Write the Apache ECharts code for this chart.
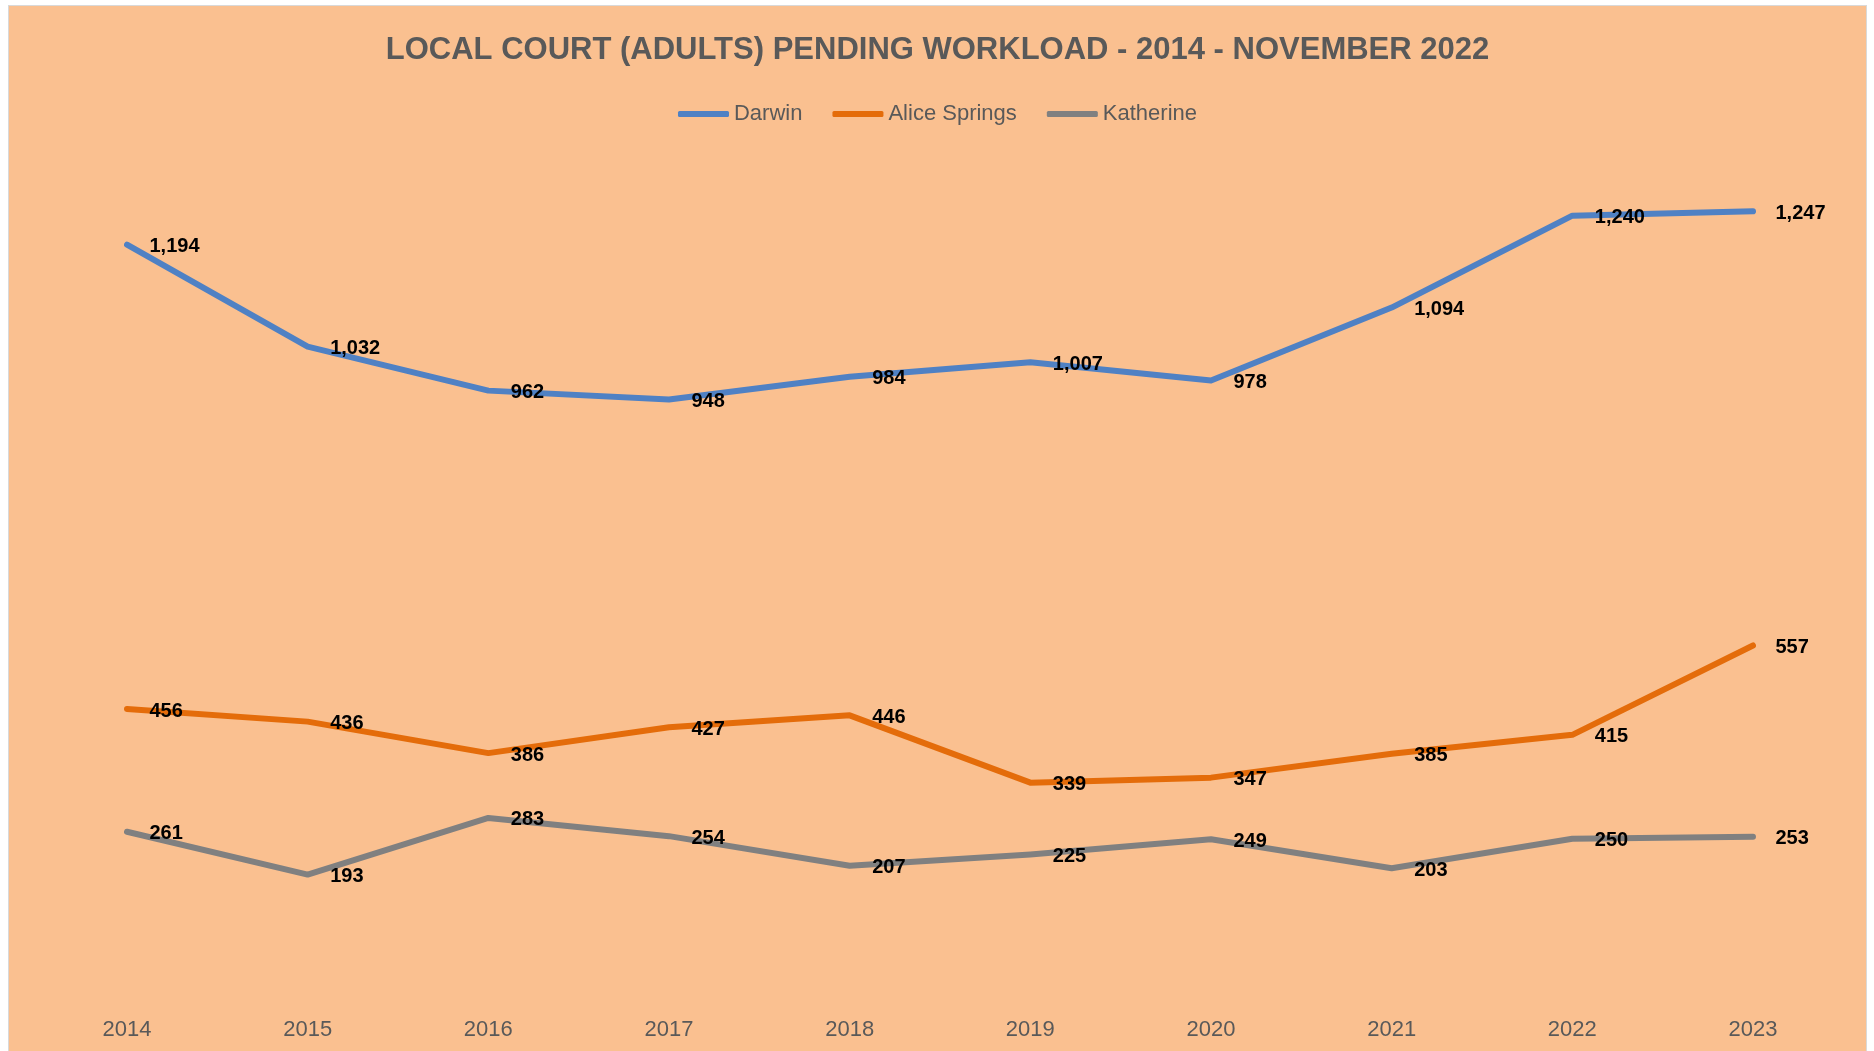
<!DOCTYPE html>
<html lang="en">

<head>
    <meta charset="UTF-8">
    <title>Local Court (Adults) Pending Workload</title>
    <script src="https://cdn.jsdelivr.net/npm/echarts@6/dist/echarts.min.js"></script>
    <style>
        body {
            margin: 0;
            background: #ffffff;
        }

        .picture {
            position: absolute;
            left: 8px;
            top: 5px;
            width: 1857px;
            height: 1046px;
            border: 1px solid #d9d9d9;
        }
    </style>
</head>

<body>
    <div class="picture"></div>

    <script>
        var years = ['2014', '2015', '2016', '2017', '2018', '2019', '2020', '2021', '2022', '2023'];
        var darwin = [1194, 1032, 962, 948, 984, 1007, 978, 1094, 1240, 1247];
        var aliceSprings = [456, 436, 386, 427, 446, 339, 347, 385, 415, 557];
        var katherine = [261, 193, 283, 254, 207, 225, 249, 203, 250, 253];

        var font = "'Liberation Sans', Arial, sans-serif";

        // one line series, labels to the right of each point
        function makeSeries(name, data, color) {
            return {
                name: name,
                type: 'line',
                data: data,
                symbol: 'circle',
                symbolSize: 1,
                showSymbol: true,
                itemStyle: { color: color },
                lineStyle: { color: color, width: 6, cap: 'round', join: 'round' },
                label: {
                    show: true,
                    position: 'right',
                    distance: 22,
                    offset: [0, 2],
                    color: '#000000',
                    fontFamily: font,
                    fontWeight: 'bold',
                    fontSize: 20,
                    formatter: function (p) {
                        return p.value.toLocaleString('en-US');
                    }
                }
            };
        }

        var myChart = echarts.init(document.getElementsByClassName('picture')[0]);
        myChart.setOption({
            animation: false,
            backgroundColor: '#FAC090',
            title: {
                text: 'LOCAL COURT (ADULTS) PENDING WORKLOAD - 2014 - NOVEMBER 2022',
                left: 'center',
                top: 24,
                textStyle: {
                    color: '#595959',
                    fontFamily: font,
                    fontWeight: 'bold',
                    fontSize: 31
                }
            },
            legend: {
                top: 92,
                left: 'center',
                icon: 'roundRect',
                itemWidth: 51,
                itemHeight: 6,
                itemGap: 30,
                textStyle: {
                    color: '#595959',
                    fontFamily: font,
                    fontSize: 22
                },
                data: ['Darwin', 'Alice Springs', 'Katherine']
            },
            grid: {
                left: 118,
                right: 113,
                top: 109,
                bottom: 56
            },
            xAxis: {
                type: 'category',
                boundaryGap: false,
                data: years,
                axisLine: { show: false },
                axisTick: { show: false },
                axisLabel: {
                    color: '#595959',
                    fontFamily: font,
                    fontSize: 22,
                    margin: 23
                }
            },
            yAxis: {
                type: 'value',
                min: 0,
                max: 1400,
                show: false
            },
            series: [
                makeSeries('Darwin', darwin, '#4F81C4'),
                makeSeries('Alice Springs', aliceSprings, '#E46C0A'),
                makeSeries('Katherine', katherine, '#808080')
            ]
        });
    </script>
</body>

</html>
